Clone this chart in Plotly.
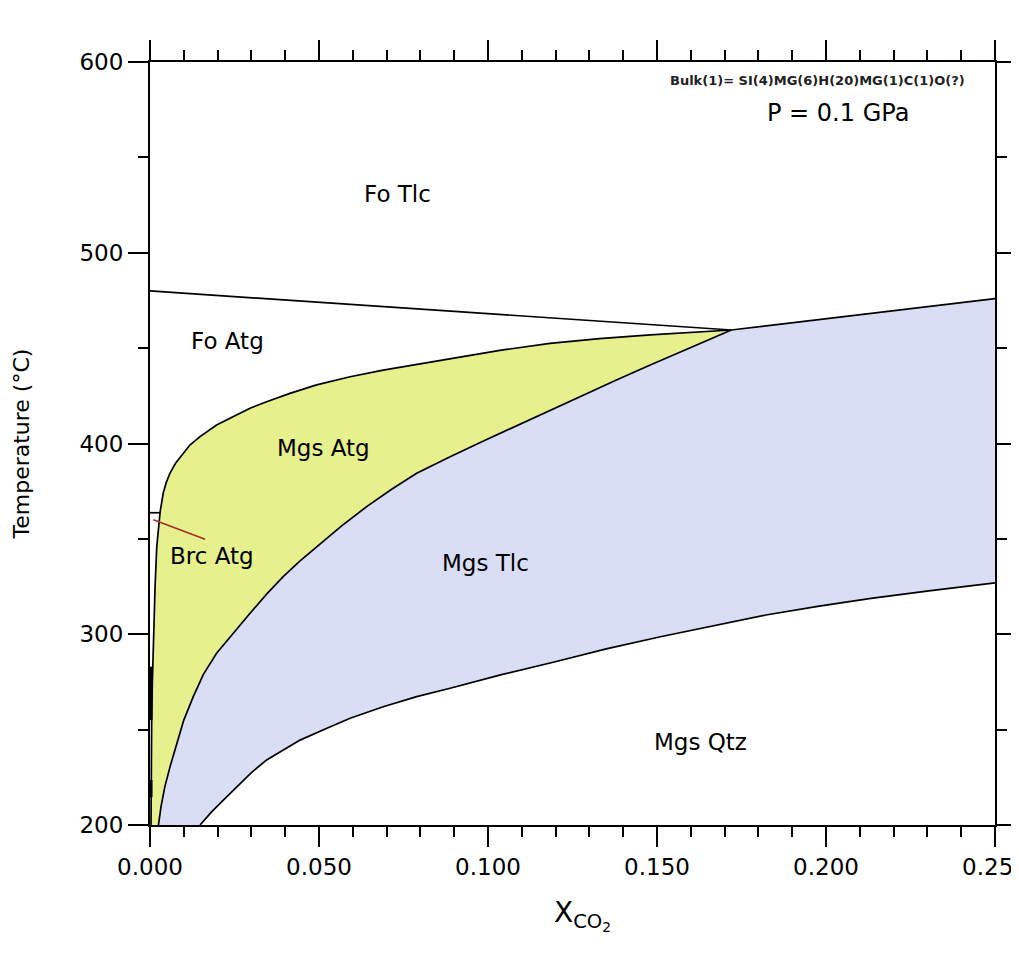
import plotly.graph_objects as go

# ---- data (X_CO2, T in °C) ----
fo_line_x = [0.0, 0.172]
fo_line_y = [480.0, 459.5]

tlc_line_x = [0.172, 0.250]
tlc_line_y = [459.5, 476.0]

atg_upper_x = [0.0030, 0.0034, 0.0039, 0.0048, 0.0059, 0.0075, 0.0099, 0.0118, 0.0148, 0.0197, 0.0247,
               0.0296, 0.0345, 0.0414, 0.0493, 0.0592, 0.0690, 0.0789, 0.0888, 0.1035, 0.1183, 0.1330,
               0.1480, 0.1600, 0.1720]
atg_upper_y = [364.2, 369.0, 373.9, 379.5, 384.4, 389.5, 394.9, 399.2, 403.6, 409.7, 414.1,
               418.5, 421.9, 426.3, 430.7, 435.0, 438.5, 441.5, 444.7, 448.8, 452.5, 455.0,
               456.9, 458.2, 459.5]

atg_lower_x = [0.1720, 0.1627, 0.1550, 0.1480, 0.1380, 0.1282, 0.1185, 0.1085, 0.0985, 0.0888, 0.0789,
               0.0715, 0.0641, 0.0567, 0.0493, 0.0444, 0.0394, 0.0345, 0.0296, 0.0247, 0.0197, 0.0158,
               0.0128, 0.0100, 0.0079, 0.0060, 0.0044, 0.0033, 0.0025]
atg_lower_y = [459.5, 452.5, 446.5, 441.2, 433.3, 425.4, 417.4, 409.3, 401.2, 393.1, 384.4,
               376.0, 366.9, 356.8, 345.9, 338.5, 330.2, 321.0, 311.0, 300.8, 290.0, 279.0,
               267.3, 255.0, 242.8, 231.0, 220.1, 210.0, 200.0]

brc_left_x = [0.0030, 0.0025, 0.0020, 0.0015, 0.0012, 0.0010, 0.0007, 0.0005, 0.0004, 0.0003]
brc_left_y = [364.2, 355.0, 345.8, 325.0, 310.0, 298.7, 275.0, 255.0, 230.0, 200.0]

qtz_x = [0.0148, 0.0183, 0.0217, 0.0266, 0.0300, 0.0345, 0.0395, 0.0444, 0.0520, 0.0592, 0.0690, 0.0789,
         0.0888, 0.1040, 0.1199, 0.1350, 0.1510, 0.1665, 0.1822, 0.1980, 0.2133, 0.2310, 0.2500]
qtz_y = [200.0, 207.0, 213.0, 221.8, 227.5, 234.1, 239.5, 244.5, 250.5, 256.0, 262.0, 267.3,
         271.7, 278.8, 285.6, 292.3, 298.7, 304.5, 310.1, 314.7, 318.8, 322.9, 326.9]

brc_step_x = [0.0, 0.0030]
brc_step_y = [363.7, 363.7]

red_x = [0.0010, 0.0163]
red_y = [360.0, 349.8]

axis_seg1_y = [283.0, 255.0]
axis_seg2_y = [223.6, 214.6]

labels = ["Fo Tlc", "Fo Atg", "Mgs Atg", "Brc Atg", "Mgs Tlc", "Mgs Qtz"]
label_x = [0.0731, 0.0228, 0.0512, 0.0183, 0.0994, 0.1630]
label_y = [531.0, 453.7, 397.6, 341.0, 337.4, 243.7]

x_tickvals = [0, 0.05, 0.10, 0.15, 0.20, 0.25]
x_ticktext = ["0.000", "0.050", "0.100", "0.150", "0.200", "0.250"]
y_tickvals = [200, 300, 400, 500, 600]

YELLOW = "#e6f08c"
BLUE = "#d9def5"
FONT = "DejaVu Sans, Liberation Sans, Arial"

fig = go.Figure()

# blue field (Mgs Tlc)
blue_x = qtz_x + [0.250] + tlc_line_x[::-1] + atg_lower_x[1:]
blue_y = qtz_y + [tlc_line_y[1]] + tlc_line_y[::-1] + atg_lower_y[1:]
fig.add_trace(go.Scatter(x=blue_x, y=blue_y, fill="toself", fillcolor=BLUE,
                         mode="none", hoverinfo="skip"))

# yellow field (Mgs Atg / Brc Atg)
yel_x = atg_upper_x + atg_lower_x[1:] + brc_left_x[::-1]
yel_y = atg_upper_y + atg_lower_y[1:] + brc_left_y[::-1]
fig.add_trace(go.Scatter(x=yel_x, y=yel_y, fill="toself", fillcolor=YELLOW,
                         mode="none", hoverinfo="skip"))

line = dict(color="black", width=1.7)
for xs, ys in [(fo_line_x, fo_line_y), (tlc_line_x, tlc_line_y),
               (atg_upper_x, atg_upper_y), (atg_lower_x, atg_lower_y),
               (brc_left_x, brc_left_y), (qtz_x, qtz_y), (brc_step_x, brc_step_y)]:
    fig.add_trace(go.Scatter(x=xs, y=ys, mode="lines", line=line, hoverinfo="skip"))

fig.add_trace(go.Scatter(x=red_x, y=red_y, mode="lines",
                         line=dict(color="#a3302a", width=1.7), hoverinfo="skip"))
for ys in (axis_seg1_y, axis_seg2_y):
    fig.add_trace(go.Scatter(x=[0.0003, 0.0003], y=ys, mode="lines",
                             line=dict(color="black", width=3), hoverinfo="skip"))

for t, x, y in zip(labels, label_x, label_y):
    fig.add_annotation(x=x, y=y, text=t, showarrow=False,
                       font=dict(family=FONT, size=23, color="black"))

fig.add_annotation(x=0.2036, y=573.3, text="P = 0.1 GPa", showarrow=False,
                   font=dict(family=FONT, size=24, color="black"))
fig.add_annotation(x=0.1976, y=590.3, text="Bulk(1)= SI(4)MG(6)H(20)MG(1)C(1)O(?)", showarrow=False,
                   font=dict(family=FONT, size=13, color="#222222", weight="bold"))

# axis titles
fig.add_annotation(xref="paper", yref="paper", x=0.5124, y=-0.118, text="X<sub>CO<sub>2</sub></sub>",
                   showarrow=False, xanchor="center", yanchor="middle",
                   font=dict(family=FONT, size=28, color="black"))
fig.add_annotation(xref="paper", yref="paper", x=-0.1515, y=0.5, text="Temperature (°C)",
                   showarrow=False, textangle=-90, xanchor="center", yanchor="middle",
                   font=dict(family=FONT, size=22, color="black"))

axis_common = dict(showline=True, linecolor="black", linewidth=2, mirror="allticks",
                   ticks="outside", ticklen=20, tickwidth=2, tickcolor="black",
                   showgrid=False, zeroline=False, automargin=False,
                   ticklabeloverflow="allow",
                   tickfont=dict(family=FONT, size=23, color="black"))

fig.update_xaxes(range=[0, 0.25], tickvals=x_tickvals, ticktext=x_ticktext,
                 minor=dict(dtick=0.01, tick0=0, ticklen=10, tickwidth=2, tickcolor="black",
                            ticks="outside", showgrid=False),
                 **axis_common)
fig.update_yaxes(range=[200, 600], tickvals=y_tickvals,
                 minor=dict(dtick=50, tick0=200, ticklen=10, tickwidth=2, tickcolor="black",
                            ticks="outside", showgrid=False),
                 **axis_common)

fig.update_layout(width=1019, height=953, showlegend=False,
                  plot_bgcolor="white", paper_bgcolor="white",
                  margin=dict(l=142, r=32, t=54, b=136, autoexpand=False))

fig.write_html("out.html")
